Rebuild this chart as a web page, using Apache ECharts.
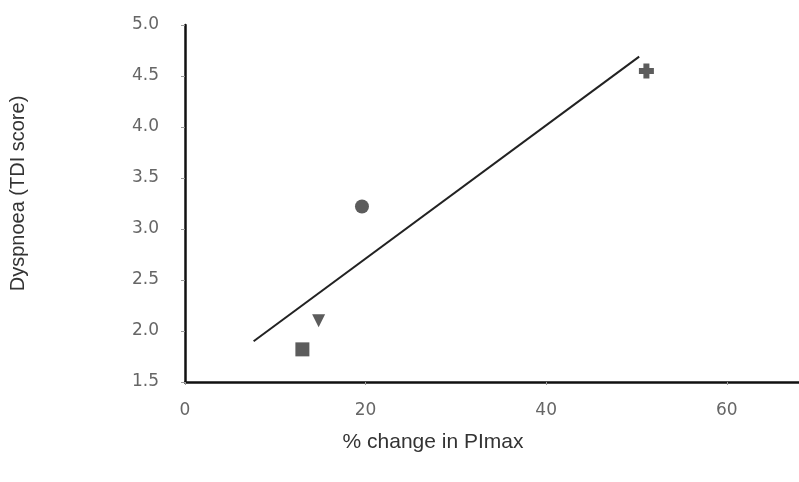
<!DOCTYPE html>
<html>
<head>
<meta charset="utf-8">
<script src="https://cdn.jsdelivr.net/npm/echarts@6/dist/echarts.min.js"></script>
<style>
html,body{margin:0;padding:0;background:#fff;}
#chart{width:799px;height:482px;}
</style>
</head>
<body>
<div id="chart"></div>
<script>
// points: % change in PImax vs TDI score
var squarePt = [[13.0, 1.82]];
var trianglePt = [[14.8, 2.1]];
var circlePt = [[19.6, 3.22]];
var crossPt = [[51.1, 4.55]];
// regression line end points
var fitLine = [[7.6, 1.9], [50.3, 4.69]];
var xTicks = [0, 20, 40, 60];

var crossPath = 'path://M3,0 L7,0 L7,3 L10,3 L10,7 L7,7 L7,10 L3,10 L3,7 L0,7 L0,3 L3,3 Z';

var chart = echarts.init(document.getElementById("chart"));
var option = {
	animation: false,
	backgroundColor: '#fff',
	grid: {left: 185, right: 0, top: 25, bottom: 100, outerBoundsMode: 'none', containLabel: false},
	xAxis: {
		type: 'value', min: 0, max: 68, interval: 20,
		name: '% change in PImax', nameLocation: 'middle', nameGap: 50,
		nameTextStyle: {fontFamily: 'Liberation Sans', fontSize: 21, color: '#333', padding: [0, 118, 0, 0]},
		axisLine: {lineStyle: {color: '#111', width: 2.5}},
		axisTick: {show: true, length: 3, lineStyle: {color: '#999'}, customValues: xTicks},
		axisLabel: {customValues: xTicks, margin: 20, fontFamily: 'DejaVu Sans', fontSize: 17, color: '#666'},
		splitLine: {show: false}
	},
	yAxis: {
		type: 'value', min: 1.5, max: 5.0, interval: 0.5,
		name: 'Dyspnoea (TDI score)', nameLocation: 'middle', nameGap: 157,
		nameTextStyle: {fontFamily: 'Liberation Sans', fontSize: 20, color: '#333', padding: [0, 0, 0, 20]},
		axisLine: {show: true, lineStyle: {color: '#111', width: 2.5}},
		axisTick: {show: true, length: 4, lineStyle: {color: '#999'}},
		axisLabel: {margin: 26, fontFamily: 'DejaVu Sans', fontSize: 17, color: '#666',
			formatter: function(v){ return v.toFixed(1); }},
		splitLine: {show: false}
	},
	series: [
		{type: 'line', data: fitLine, symbol: 'none', lineStyle: {color: '#222', width: 2}},
		{type: 'scatter', data: squarePt, symbol: 'rect', symbolSize: 14, itemStyle: {color: '#333'}},
		{type: 'scatter', data: trianglePt, symbol: 'triangle', symbolRotate: 180, symbolSize: 13, itemStyle: {color: '#333'}},
		{type: 'scatter', data: circlePt, symbol: 'circle', symbolSize: 14, itemStyle: {color: '#333'}},
		{type: 'scatter', data: crossPt, symbol: crossPath, symbolSize: 15, itemStyle: {color: '#333'}}
	]
};
chart.setOption(option);
</script>
</body>
</html>
